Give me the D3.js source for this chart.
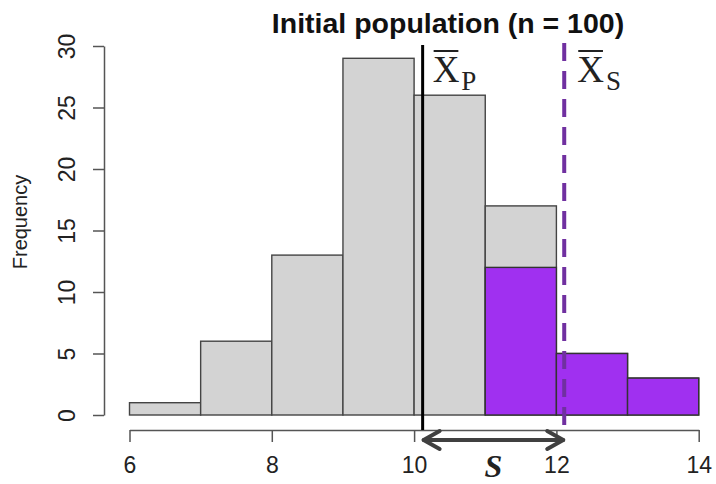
<!DOCTYPE html>
<html>
<head>
<meta charset="utf-8">
<script src="https://cdn.jsdelivr.net/npm/d3@7"></script>
<style>
  html, body { margin: 0; padding: 0; background: #fff; }
  svg { display: block; }
</style>
</head>
<body>
<svg id="chart" width="716" height="484"></svg>
<script>
// Histogram bin edges (left edge of each unit-wide bin)
const binStarts = [6, 7, 8, 9, 10, 11, 12, 13];
// Frequencies of the whole population (n = 100)
const populationCounts = [1, 6, 13, 29, 26, 17, 5, 3];
// Frequencies of the selected sample, drawn on top
const sampleCounts = [0, 0, 0, 0, 0, 12, 5, 3];
// Means of the population and of the sample
const populationMean = 10.12;
const sampleMean = 12.11;
// Axis ticks
const xTicks = [6, 8, 10, 12, 14];
const yTicks = [0, 5, 10, 15, 20, 25, 30];

const titleText = "Initial population (n = 100)";
const yLabel = "Frequency";

const svg = d3.select("#chart");
const x = d3.scaleLinear().domain([6, 14]).range([129.5, 698.7]);
const y = d3.scaleLinear().domain([0, 30]).range([415, 46]);

const sans = "'Liberation Sans', Arial, Helvetica, sans-serif";
const serif = "'Liberation Serif', 'DejaVu Serif', serif";
const axisColor = "#555";

// Population bars
svg.append("g").selectAll("rect")
  .data(binStarts.map((b, i) => ({ b, v: populationCounts[i] })))
  .join("rect")
  .attr("x", d => x(d.b))
  .attr("width", d => x(d.b + 1) - x(d.b))
  .attr("y", d => y(d.v))
  .attr("height", d => y(0) - y(d.v))
  .attr("fill", "#d3d3d3")
  .attr("stroke", "#444")
  .attr("stroke-width", 1.4);

// Sample bars
svg.append("g").selectAll("rect")
  .data(binStarts.map((b, i) => ({ b, v: sampleCounts[i] })).filter(d => d.v > 0))
  .join("rect")
  .attr("x", d => x(d.b))
  .attr("width", d => x(d.b + 1) - x(d.b))
  .attr("y", d => y(d.v))
  .attr("height", d => y(0) - y(d.v))
  .attr("fill", "#a030f0")
  .attr("stroke", "#333")
  .attr("stroke-width", 1.4);

// Y axis
const yAxis = svg.append("g")
  .attr("transform", `translate(104,0)`)
  .call(d3.axisLeft(y).tickValues(yTicks).tickSize(11).tickSizeOuter(0));
yAxis.select(".domain").attr("stroke", axisColor).attr("stroke-width", 1.5);
yAxis.selectAll(".tick line").attr("stroke", axisColor).attr("stroke-width", 1.5);
yAxis.selectAll(".tick text")
  .attr("transform", "rotate(-90)")
  .attr("x", 0).attr("y", -29).attr("dy", "0")
  .attr("text-anchor", "middle")
  .attr("fill", "#222")
  .style("font-family", sans).style("font-size", "23px");

// X axis
const xAxis = svg.append("g")
  .attr("transform", `translate(0,430)`)
  .call(d3.axisBottom(x).tickValues(xTicks).tickSize(12).tickSizeOuter(0));
xAxis.select(".domain").attr("stroke", axisColor).attr("stroke-width", 1.5);
xAxis.selectAll(".tick line").attr("stroke", axisColor).attr("stroke-width", 1.5);
xAxis.selectAll(".tick text")
  .attr("y", 43).attr("dy", "0")
  .attr("fill", "#222")
  .style("font-family", sans).style("font-size", "23px");

// Title
svg.append("text")
  .attr("x", 448).attr("y", 33)
  .attr("text-anchor", "middle")
  .style("font-family", sans).style("font-weight", "bold").style("font-size", "28.5px")
  .attr("fill", "#111")
  .text(titleText);

// Y label
svg.append("text")
  .attr("transform", "translate(27,222) rotate(-90)")
  .attr("text-anchor", "middle")
  .style("font-family", sans).style("font-size", "20px")
  .attr("fill", "#222")
  .text(yLabel);

// Population mean (solid) and sample mean (dashed)
svg.append("line")
  .attr("x1", x(populationMean)).attr("x2", x(populationMean))
  .attr("y1", 45).attr("y2", 430)
  .attr("stroke", "#000").attr("stroke-width", 3);
svg.append("line")
  .attr("x1", x(sampleMean)).attr("x2", x(sampleMean))
  .attr("y1", 43).attr("y2", 430)
  .attr("stroke", "#7030a0").attr("stroke-width", 4)
  .attr("stroke-dasharray", "18 10");

// Mean symbols: X with overbar and subscript
function meanLabel(px, sub) {
  const g = svg.append("g");
  const t = g.append("text")
    .attr("x", px).attr("y", 82)
    .style("font-family", serif).attr("fill", "#222");
  t.append("tspan").style("font-size", "37px").text("X");
  t.append("tspan").style("font-size", "27px").attr("dx", 2).attr("dy", 8).text(sub);
  const xb = t.select("tspan").node().getComputedTextLength();
  g.append("line")
    .attr("x1", px + 1).attr("x2", px + xb - 1)
    .attr("y1", 51).attr("y2", 51)
    .attr("stroke", "#222").attr("stroke-width", 2);
}
meanLabel(x(populationMean) + 10, "P");
meanLabel(x(sampleMean) + 13, "S");

// Double-headed arrow spanning the two means
const ay = 440;
const ax1 = x(populationMean), ax2 = x(sampleMean);
const arrow = svg.append("g")
  .attr("stroke", "#404040").attr("stroke-width", 4)
  .attr("fill", "none").attr("stroke-linecap", "round").attr("stroke-linejoin", "round");
arrow.append("line").attr("x1", ax1 + 1).attr("x2", ax2 - 1).attr("y1", ay).attr("y2", ay);
arrow.append("path").attr("d", `M${ax1 + 17},${ay - 9} L${ax1 + 1},${ay} L${ax1 + 17},${ay + 9}`);
arrow.append("path").attr("d", `M${ax2 - 17},${ay - 9} L${ax2 - 1},${ay} L${ax2 - 17},${ay + 9}`);

svg.append("text")
  .attr("x", (ax1 + ax2) / 2).attr("y", 477)
  .attr("text-anchor", "middle")
  .style("font-family", serif).style("font-weight", "bold").style("font-style", "italic")
  .style("font-size", "32px").attr("fill", "#222")
  .text("S");
</script>
</body>
</html>
